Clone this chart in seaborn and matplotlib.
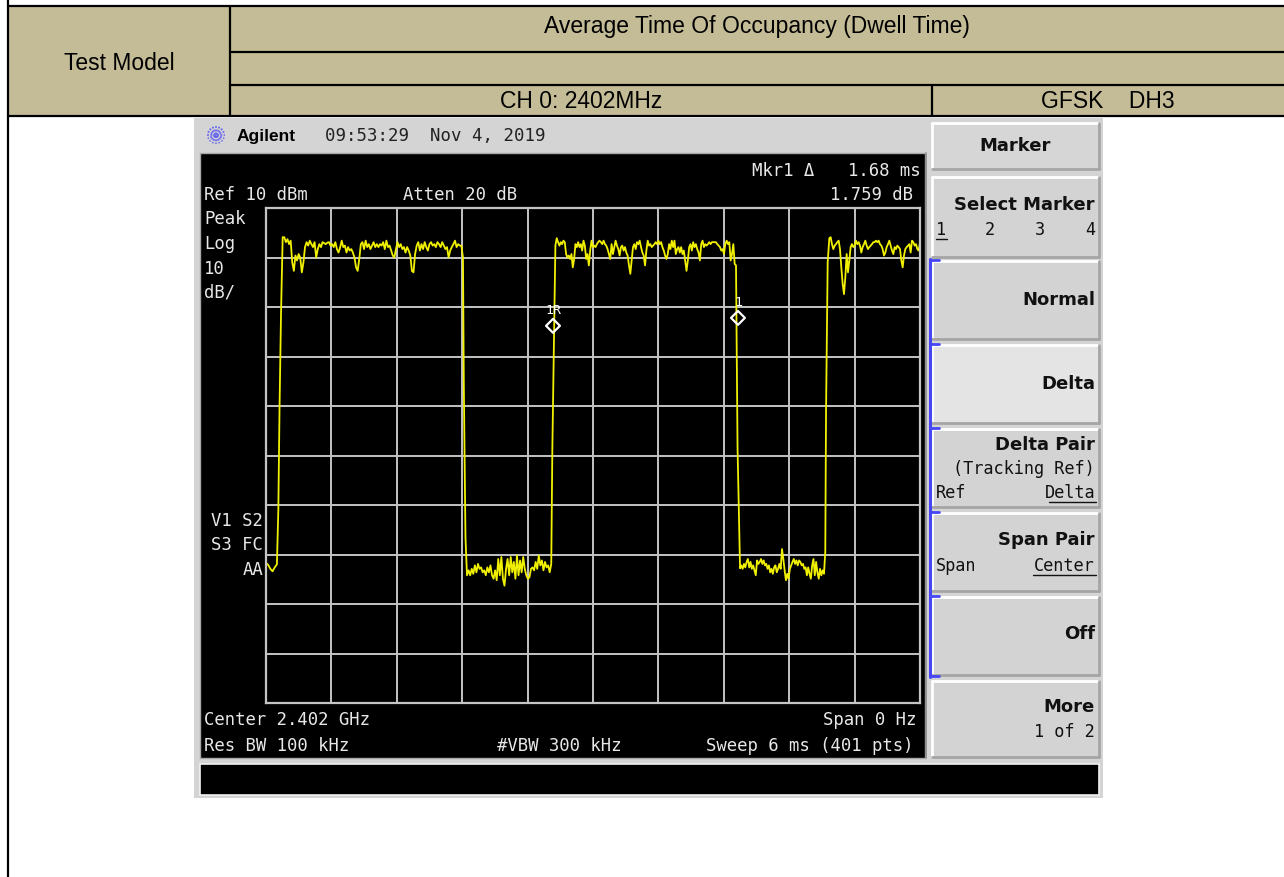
import numpy as np
import pandas as pd
import matplotlib
matplotlib.use("Agg")
import matplotlib.pyplot as plt
from matplotlib.patches import Rectangle
import seaborn as sns

# header table text
title = "Average Time Of Occupancy (Dwell Time)"
row_label = "Test Model"
channel = "CH 0: 2402MHz"
mode = "GFSK    DH3"

# analyzer trace (time in ms, level in dBm)
sweep_ms = 6.0
ref_dbm = 10
db_per_div = 10

lead_span = (0.0, 0.10)
lead_db = [-61.7, -62.1, -62.9, -63.4, -62.6, -62.0]
rise1_t = [0.113, 0.124, 0.138]
rise1_db = [-51.1, -30.6, -11.1]
high1_span = (0.153, 1.807)
high1_db = [4.1, 4.1, 3.1, 3.7, 2.7, 3.4, -1.0, -2.7, 0.4, -0.6, 0.7, 0.0, -3.0, -1.0, 2.1, 3.1,
            2.4, 3.4, 2.7, 2.1, 3.1, 0.0, 1.7, 2.7, 2.1, 3.1, 2.9, 2.7, 3.0, 3.1, 2.4, 2.7,
            2.1, 3.1, 1.7, 1.0, 2.0, 3.4, 2.1, 2.4, 1.0, 2.1, 1.4, 1.7, 1.0, 0.0, -2.0, -2.7,
            -0.3, 2.7, 3.1, 1.7, 3.4, 2.1, 2.7, 1.7, 2.4, 3.1, 2.1, 2.7, 2.1, 2.7, 2.4, 3.1,
            1.7, 3.4, 2.1, 2.4, 1.4, 0.4, 0.0, 1.7, 3.1, 2.1, 2.7, 1.7, 2.1, 1.0, 2.1, 1.4,
            0.4, -2.7, -3.0, 0.7, 2.4, 3.1, 1.4, 2.7, 1.7, 3.1, 2.1, 1.4, 2.7, 3.1, 2.4, 2.7,
            2.1, 3.1, 2.7, 2.1, 3.1, 2.4, 1.7, 2.1, 0.0, 1.4, 2.1, 2.7, 3.4, 2.1, 2.7, 2.4,
            2.4, 0.0]
fall1_t = [1.815, 1.830, 1.844]
fall1_db = [-26.2, -56.5, -64.2]
low1_span = (1.859, 2.617)
low1_db = [-63.2, -64.2, -62.9, -63.9, -62.2, -63.6, -61.9, -62.9, -62.6, -63.6, -63.2, -64.2,
           -62.6, -63.6, -62.2, -64.2, -64.9, -63.2, -65.2, -60.9, -64.2, -60.5, -64.9, -66.3,
           -62.9, -60.9, -64.2, -60.5, -63.6, -61.5, -64.9, -60.2, -64.2, -61.2, -63.6, -60.5,
           -62.9, -64.2, -64.9, -64.6, -62.9, -62.6, -63.2, -61.5, -62.9, -60.2, -62.2, -61.2,
           -63.2, -61.5, -62.6, -62.2, -63.6, -61.9]
rise2_t = [2.627]
rise2_db = [-38.7]
high2_span = (2.655, 4.312)
high2_db = [2.4, 3.9, 3.1, 2.4, 3.1, 2.7, 3.4, 3.1, 0.7, 0.0, 0.4, -0.3, 0.7, -2.0, -0.3, 2.7,
            2.1, 3.1, 2.1, 2.7, 1.4, 3.4, 2.4, -0.3, 0.7, -1.6, 1.4, 3.4, 2.1, 2.4, 2.1, 2.7,
            3.1, 3.4, 3.1, 2.7, 3.4, 2.7, 2.4, 1.7, 0.7, -0.3, 2.7, 0.7, 2.1, 3.4, 2.4, 1.7,
            0.4, 2.1, 2.4, 1.4, 2.1, 1.0, 0.4, -1.6, -3.3, -0.6, 2.1, 2.7, 1.7, 3.1, 2.7, 3.4,
            2.1, 1.0, 0.4, -1.6, 1.4, 3.4, 2.4, 2.7, 2.1, 2.4, 2.7, 3.1, 2.7, 3.4, 2.7, 3.1,
            2.1, 1.4, 0.4, -0.3, 0.7, 2.7, 1.7, 3.4, 2.1, 3.4, 0.7, 1.7, 2.1, 1.0, 2.1, 0.7,
            1.4, -0.6, -2.7, -0.6, 2.1, 2.7, 1.4, 3.1, 2.1, 2.7, 1.7, 1.0, -0.6, 2.7, 3.4, 2.1,
            2.7, 2.4, 2.7, 3.1, 2.7, 3.1, 3.1, 3.1, 3.1, 2.7, 2.4, 2.1, 1.4, 1.7, 0.7, 2.7,
            3.4, 2.7, 3.1, -0.6, 0.7, 2.7, -1.3, -1.6]
fall2_t = [4.326, 4.349]
fall2_db = [-38.3, -62.8]
low2_span = (4.361, 5.131)
low2_db = [-62.2, -62.9, -61.9, -62.6, -61.5, -60.9, -62.6, -61.5, -62.9, -62.2, -63.2, -64.2,
           -61.2, -61.9, -61.5, -60.9, -61.9, -61.2, -62.2, -61.9, -62.9, -62.2, -63.6, -62.9,
           -63.9, -62.6, -62.2, -63.6, -62.9, -61.9, -62.9, -58.9, -60.9, -63.2, -65.2, -63.9,
           -64.9, -62.9, -62.2, -61.5, -60.9, -61.9, -61.2, -62.2, -61.2, -61.5, -62.2, -61.9,
           -62.9, -62.6, -64.2, -62.6, -63.9, -64.9, -62.2, -60.9, -64.2, -61.5, -63.6, -64.9,
           -62.9, -64.2, -63.2, -63.9, -59.5]
rise3_t = [5.138, 5.153]
rise3_db = [-31.0, -1.0]
high3_span = (5.168, 6.0)
high3_db = [3.9, 4.1, 2.7, 1.7, 2.4, 2.7, 3.1, 3.4, 1.7, -2.0, -5.3, -7.4, -4.0, 0.7, -3.0, -0.6,
            2.1, 2.7, 2.1, 2.4, 3.4, 2.7, 3.1, 2.4, 1.0, 2.1, 2.7, 3.4, 2.4, 1.7, 2.1, 2.4,
            2.7, 3.1, 3.1, 3.4, 3.1, 3.4, 2.7, 2.4, 1.7, 0.4, 1.0, 2.1, 2.7, 3.4, 2.4, 1.4,
            0.7, 2.1, 1.7, 2.4, 2.1, 1.7, -0.6, -2.0, 0.4, 1.7, 2.1, 2.4, 2.7, 1.0, 3.4, 3.1,
            2.4, 2.7, 1.7, 1.4, 3.1]

marker_names = ["1R", "1"]
marker_t = [2.633, 4.33]
marker_db = [-13.8, -12.2]


def seg(span, vals):
    return np.linspace(span[0], span[1], len(vals))


t = np.concatenate([seg(lead_span, lead_db), rise1_t, seg(high1_span, high1_db), fall1_t,
                    seg(low1_span, low1_db), rise2_t, seg(high2_span, high2_db), fall2_t,
                    seg(low2_span, low2_db), rise3_t, seg(high3_span, high3_db)])
db = np.concatenate([lead_db, rise1_db, high1_db, fall1_db, low1_db, rise2_db, high2_db,
                     fall2_db, low2_db, rise3_db, high3_db])
trace = pd.DataFrame({"ms": t, "dBm": db})

sns.set_style("white")
plt.rcParams["font.family"] = ["DejaVu Sans"]

W, H = 1284, 878
fig = plt.figure(figsize=(W / 100, H / 100), dpi=100)
bg = fig.add_axes([0, 0, 1, 1])
bg.set_xlim(0, W)
bg.set_ylim(H, 0)
bg.axis("off")

# ---- header table ----
tan = "#C4BC96"
bg.add_patch(Rectangle((8, 7), W - 8, 110, fc=tan, ec="none"))
for y, x0 in [(7, 8), (53, 230), (86, 230), (117, 8)]:
    bg.plot([x0, W], [y, y], color="black", lw=1.6)
bg.plot([8, 8], [0, H], color="black", lw=1.6)
bg.plot([230, 230], [7, 117], color="black", lw=1.6)
bg.plot([932, 932], [86, 117], color="black", lw=1.6)
arial = "Liberation Sans"
hd = dict(fontsize=16.5, family=arial, color="black", ha="center", va="center")
bg.text(757, 27, title, **hd)
bg.text(119, 63, row_label, **hd)
bg.text(581, 102, channel, **hd)
bg.text(1108, 102, mode, **hd)

# ---- analyzer screenshot frame ----
bg.add_patch(Rectangle((194, 119), 909, 680, fc="#D4D4D4", ec="none"))
bg.add_patch(Rectangle((200, 154), 725, 605, fc="black", ec="#A8A8A8", lw=1))
bg.add_patch(Rectangle((200, 765), 899, 31, fc="black", ec="#F2F2F2", lw=1.2))

# Agilent logo + date line
for a in np.linspace(0, np.pi, 8, endpoint=False):
    dx, dy = 9 * np.cos(a), 9 * np.sin(a)
    bg.plot([216 - dx, 216 + dx], [136 - dy, 136 + dy], color="#6A6AF0", lw=1.2, ls=(0, (1.2, 0.8)))
bg.text(237, 136, "Agilent", fontsize=12.5, family=arial, weight="bold", color="black",
        ha="left", va="center")
mono = "DejaVu Sans Mono"
bg.text(325, 136, "09:53:29  Nov 4, 2019", fontsize=12.5, family=mono, color="#222222",
        ha="left", va="center")

scr = "#E8E8E8"


def stext(x, y, s, ha="left", size=12.4):
    bg.text(x, y, s, fontsize=size, family=mono, color=scr, ha=ha, va="center")


stext(752, 171, "Mkr1 \u0394")
stext(921, 171, "1.68 ms", ha="right")
stext(913, 195, "1.759 dB", ha="right")
stext(204, 195, "Ref 10 dBm")
stext(403, 195, "Atten 20 dB")
for y, s in [(219, "Peak"), (244, "Log"), (269, "10"), (293, "dB/")]:
    stext(204, y, s)
stext(263, 521, "V1 S2", ha="right")
stext(263, 545, "S3 FC", ha="right")
stext(263, 570, "AA", ha="right")
stext(204, 720, "Center 2.402 GHz")
stext(916, 720, "Span 0 Hz", ha="right")
stext(204, 746, "Res BW 100 kHz")
stext(497, 746, "#VBW 300 kHz")
stext(913, 746, "Sweep 6 ms (401 pts)", ha="right")

# ---- softkeys ----
bg.plot([926, 926], [154, 759], color="#8C8C8C", lw=1.2)


def key(y0, y1, face="#D3D3D3"):
    bg.add_patch(Rectangle((932, y0), 167, y1 - y0, fc=face, ec="none"))
    bg.plot([932, 1099], [y0, y0], color="white", lw=2)
    bg.plot([932, 932], [y0, y1], color="white", lw=2)
    bg.plot([932, 1099], [y1, y1], color="#A5A5A5", lw=2)
    bg.plot([1099, 1099], [y0, y1], color="#A5A5A5", lw=2)


key(124, 170, "#D6D6D6")
key(178, 258)
key(262, 340)
key(346, 424, "#E4E4E4")
key(430, 508)
key(514, 592)
key(598, 676)
key(682, 758)

kb = dict(fontsize=13, family="DejaVu Sans", weight="bold", color="#111111", va="center")
kr = dict(fontsize=12.2, family=mono, color="#111111", va="center")
bg.text(1015, 146, "Marker", ha="center", **kb)
bg.text(1095, 205, "Select Marker", ha="right", **kb)
for x, s in [(941, "1"), (990, "2"), (1040, "3"), (1090, "4")]:
    bg.text(x, 230, s, ha="center", **kr)
bg.plot([936, 947], [240, 240], color="#111111", lw=1)
bg.text(1095, 300, "Normal", ha="right", **kb)
bg.text(1095, 384, "Delta", ha="right", **kb)
bg.text(1095, 445, "Delta Pair", ha="right", **kb)
bg.text(1095, 469, "(Tracking Ref)", ha="right", **kr)
bg.text(936, 493, "Ref", ha="left", **kr)
bg.text(1095, 493, "Delta", ha="right", **kr)
bg.plot([1049, 1096], [503, 503], color="#111111", lw=1)
bg.text(1095, 540, "Span Pair", ha="right", **kb)
bg.text(936, 566, "Span", ha="left", **kr)
bg.text(1095, 566, "Center", ha="right", **kr)
bg.plot([1033, 1096], [576, 576], color="#111111", lw=1)
bg.text(1095, 634, "Off", ha="right", **kb)
bg.text(1095, 707, "More", ha="right", **kb)
bg.text(1095, 732, "1 of 2", ha="right", **kr)

blue = "#4646F5"
bg.plot([930, 930], [260, 678], color=blue, lw=2.2)
for y in [261, 345, 429, 513, 597, 677]:
    bg.plot([930, 939], [y, y], color=blue, lw=2)

# ---- trace graticule ----
ax = fig.add_axes([266 / W, 1 - 704 / H, 654 / W, 495 / H])
ax.set_facecolor("black")
sns.lineplot(data=trace, x="ms", y="dBm", ax=ax, color="#F0F000", lw=1.3,
             sort=False, estimator=None)
ax.set_xlim(0, sweep_ms)
ax.set_ylim(ref_dbm - 10 * db_per_div, ref_dbm)
ax.set_xticks(np.linspace(0, sweep_ms, 11))
ax.set_yticks(np.arange(ref_dbm - 10 * db_per_div, ref_dbm + 1, db_per_div))
ax.set_axisbelow(True)
ax.grid(True, color="#C4C4C4", lw=1.4)
ax.tick_params(length=0, labelbottom=False, labelleft=False)
ax.set_xlabel("")
ax.set_ylabel("")
for s in ax.spines.values():
    s.set_color("#C4C4C4")
    s.set_linewidth(1.6)

ax.scatter(marker_t, marker_db, marker="D", s=50, facecolors="none", edgecolors="white",
           linewidths=1.6, zorder=5)
for name, mt, md in zip(marker_names, marker_t, marker_db):
    ax.annotate(name, (mt, md), xytext=(0, 11.5), textcoords="offset points", ha="center",
                va="center", color="white", fontsize=9.5, family=mono)

fig.savefig("out.png", dpi=100)
